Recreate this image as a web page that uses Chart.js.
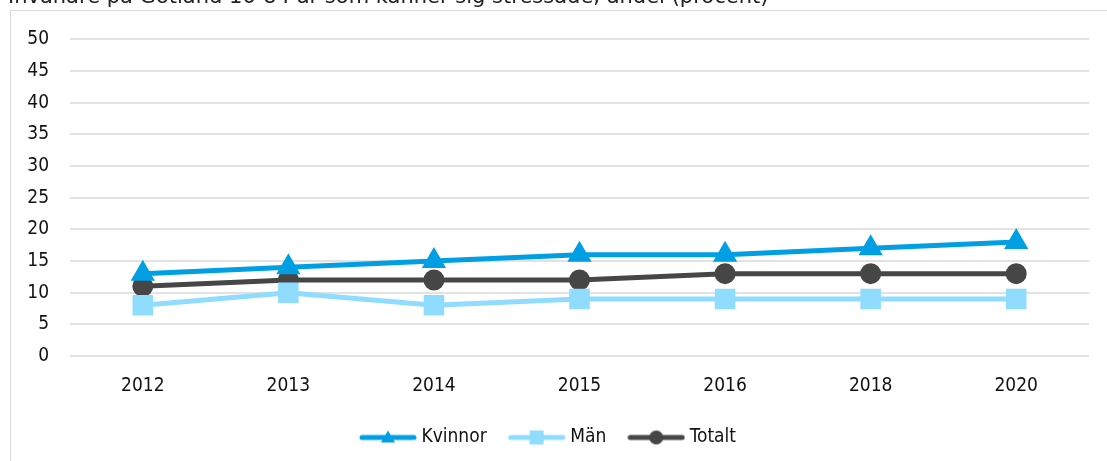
<!DOCTYPE html>
<html>
<head>
<meta charset="utf-8">
<script src="https://cdn.jsdelivr.net/npm/chart.js@4"></script>
<style>
  html, body { margin: 0; padding: 0; background: #fff; overflow: hidden; }
  #title { position: absolute; left: 8px; top: -16px; font-family: "DejaVu Sans", sans-serif; font-size: 21px; color: #222; white-space: nowrap; }
  #frame { position: absolute; left: 10px; top: 10px; width: 1097px; height: 451px; border-left: 1px solid #d9d9d9; border-top: 1px solid #d9d9d9; }
  #chartArea { position: absolute; left: 0; top: -4px; }
</style>
</head>
<body>
<div id="frame"><canvas id="chartArea" width="1096" height="454"></canvas></div>
<div id="title">Invånare på Gotland 16-84 år som känner sig stressade, andel (procent)</div>
<script>
// Chart data
var years = ['2012', '2013', '2014', '2015', '2016', '2018', '2020'];
var kvinnor = [13, 14, 15, 16, 16, 17, 18];
var man = [8, 10, 8, 9, 9, 9, 9];
var totalt = [11, 12, 12, 12, 13, 13, 13];

var colors = ['#009fe3', '#8fdcff', '#464646'];
var styles = ['triangle', 'rect', 'circle'];

// legend symbol: a line with the marker in the middle
function legendIcon(color, style) {
  var c = document.createElement('canvas');
  c.width = 58; c.height = 18;
  var g = c.getContext('2d');
  g.strokeStyle = color; g.fillStyle = color;
  g.lineWidth = 5; g.lineCap = 'round';
  g.beginPath(); g.moveTo(3, 9); g.lineTo(55, 9); g.stroke();
  g.beginPath();
  if (style === 'triangle') { g.moveTo(29, 2); g.lineTo(36, 14); g.lineTo(22, 14); g.closePath(); g.fill(); }
  else if (style === 'rect') { g.fillRect(22, 2, 14, 14); }
  else { g.arc(29, 9, 7, 0, Math.PI * 2); g.fill(); }
  return c;
}

var ctx = document.getElementById('chartArea').getContext('2d');
var font = { family: '"DejaVu Sans Condensed", "DejaVu Sans", sans-serif', size: 19 };

new Chart(ctx, {
  type: 'line',
  data: {
    labels: years,
    datasets: [
      { label: 'Kvinnor', data: kvinnor, borderColor: colors[0], backgroundColor: colors[0], pointStyle: 'triangle', pointRadius: 9, borderWidth: 5 },
      { label: 'Män', data: man, borderColor: colors[1], backgroundColor: colors[1], pointStyle: 'rect', pointRadius: 11, borderWidth: 5 },
      { label: 'Totalt', data: totalt, borderColor: colors[2], backgroundColor: colors[2], pointStyle: 'circle', pointRadius: 8, borderWidth: 5 }
    ]
  },
  options: {
    responsive: false,
    animation: false,
    layout: { padding: { top: 10, right: 18, left: 0, bottom: 4 } },
    scales: {
      x: {
        offset: true,
        grid: { display: false },
        border: { display: false },
        ticks: { color: '#111', font: font, padding: 11 },
        afterFit: function (scale) { scale.height = 46; }
      },
      y: {
        min: 0, max: 50,
        ticks: { stepSize: 5, color: '#111', font: font, padding: 21 },
        grid: { color: '#e2e2e2', lineWidth: 2, drawTicks: false },
        border: { display: false },
        afterFit: function (scale) { scale.width = 59; }
      }
    },
    plugins: {
      legend: {
        position: 'bottom',
        labels: {
          usePointStyle: true,
          pointStyleWidth: 48,
          color: '#111',
          font: font,
          padding: 26,
          generateLabels: function (chart) {
            return chart.data.datasets.map(function (ds, i) {
              return { text: ds.label, pointStyle: legendIcon(colors[i], styles[i]), fontColor: '#111', datasetIndex: i, lineWidth: 0 };
            });
          }
        }
      },
      tooltip: { enabled: false }
    }
  }
});
</script>
</body>
</html>
